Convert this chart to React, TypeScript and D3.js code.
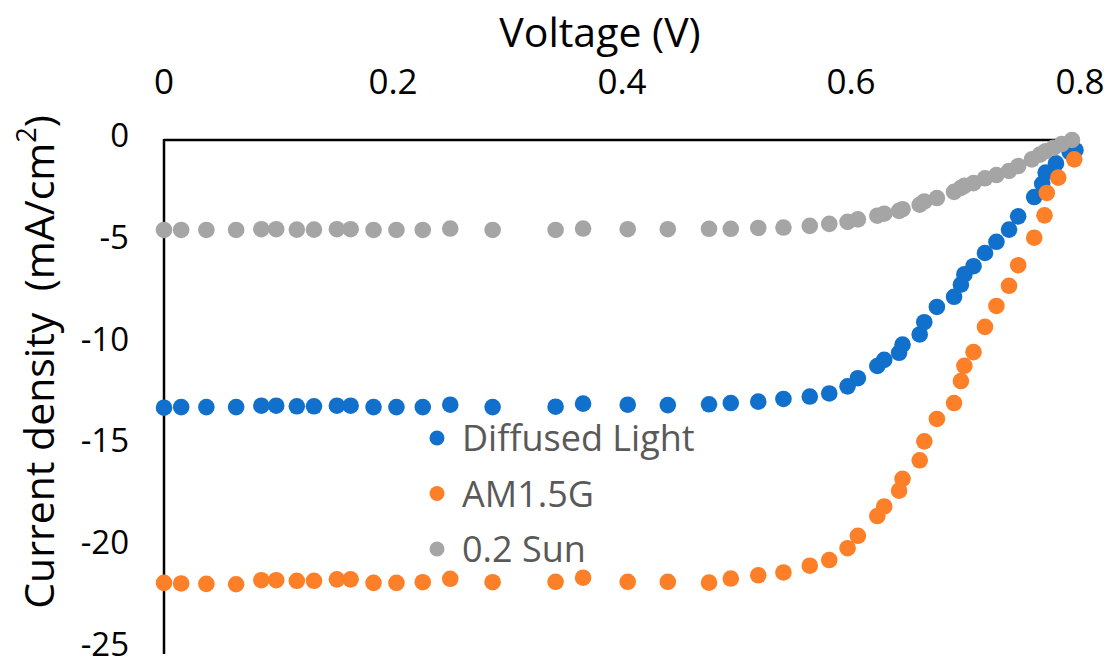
import React from "react";
import * as d3 from "d3";

// voltage sweep shared by the three curves (V)
const sweep = [
  0, 0.015, 0.037, 0.063, 0.085, 0.098, 0.116, 0.131, 0.151, 0.163, 0.183,
  0.203, 0.226, 0.25, 0.287, 0.342, 0.366, 0.405, 0.44, 0.476, 0.495, 0.519,
  0.541, 0.564, 0.581, 0.597, 0.606, 0.623, 0.629, 0.642, 0.645, 0.66, 0.664,
  0.675, 0.69, 0.696, 0.699, 0.707, 0.717, 0.727, 0.738, 0.746,
];

const diffusedV = [...sweep, 0.76, 0.767, 0.77, 0.779, 0.791, 0.796];
const diffusedJ = [
  -13.15, -13.12, -13.12, -13.12, -13.05, -13.05, -13.08, -13.08, -13.05, -13.05,
  -13.12, -13.12, -13.12, -13.0, -13.12, -13.1, -12.95, -13.0, -13.02, -12.98,
  -12.92, -12.85, -12.72, -12.6, -12.45, -12.1, -11.7, -11.1, -10.8, -10.45,
  -10.05, -9.55, -8.95, -8.2, -7.7, -7.1, -6.6, -6.2, -5.55, -5.0, -4.4, -3.75,
  -2.8, -2.15, -1.6, -1.15, -0.6, -0.5,
];

const am15V = [...sweep, 0.76, 0.769, 0.771, 0.781, 0.795];
const am15J = [
  -21.75, -21.78, -21.8, -21.82, -21.62, -21.62, -21.65, -21.65, -21.58, -21.58,
  -21.75, -21.75, -21.72, -21.55, -21.72, -21.7, -21.5, -21.7, -21.7, -21.74,
  -21.54, -21.38, -21.24, -20.91, -20.63, -20.05, -19.44, -18.47, -18.0, -17.22,
  -16.64, -15.73, -14.8, -13.7, -12.92, -11.84, -11.09, -10.42, -9.18, -8.15,
  -7.16, -6.15, -4.8, -3.7, -2.6, -1.85, -0.95,
];

const sunV = [...sweep, 0.758, 0.765, 0.77, 0.777, 0.784, 0.793];
const sunJ = [
  -4.42, -4.42, -4.42, -4.42, -4.38, -4.38, -4.4, -4.4, -4.38, -4.38, -4.42,
  -4.42, -4.42, -4.35, -4.42, -4.42, -4.35, -4.38, -4.38, -4.36, -4.36, -4.32,
  -4.3, -4.22, -4.12, -4.02, -3.9, -3.72, -3.62, -3.48, -3.4, -3.18, -3.02,
  -2.85, -2.55, -2.35, -2.25, -2.12, -1.88, -1.72, -1.52, -1.28, -0.95, -0.72,
  -0.55, -0.38, -0.2, 0.0,
];

const seriesNames = ["Diffused Light", "AM1.5G", "0.2 Sun"];
const seriesColors = ["#1070CC", "#FD7F28", "#A5A5A5"];
const xTicks = [0, 0.2, 0.4, 0.6, 0.8];
const yTicks = [0, -5, -10, -15, -20, -25];

const width = 1118;
const height = 666;
const font = "'Open Sans', 'Noto Sans', sans-serif";

export default function App() {
  const x = d3.scaleLinear().domain([0, 0.8]).range([164, 1080]);
  const y = d3.scaleLinear().domain([-25, 0]).range([649, 140]);

  const series = [
    { v: diffusedV, j: diffusedJ },
    { v: am15V, j: am15J },
    { v: sunV, j: sunJ },
  ];

  return (
    <svg
      width={width}
      height={height}
      style={{ position: "absolute", left: 0, top: 0, background: "#fff" }}
      fontFamily={font}
    >
      <text x={600} y={47} textAnchor="middle" fontSize={41}>
        Voltage (V)
      </text>
      {xTicks.map((t) => (
        <text key={t} x={x(t)} y={94} textAnchor="middle" fontSize={35}>
          {d3.format("")(t)}
        </text>
      ))}
      {yTicks.map((t) => (
        <text key={t} x={129} y={y(t) + 7} textAnchor="end" fontSize={33}>
          {t}
        </text>
      ))}
      <text
        transform={`translate(54, ${362}) rotate(-90)`}
        textAnchor="middle"
        fontSize={41}
      >
        Current density{"\u00a0 "}(mA/cm
        <tspan baselineShift="super" fontSize={27}>2</tspan>)
      </text>

      <line x1={x(0)} x2={x(0.8)} y1={y(0)} y2={y(0)} stroke="#000" strokeWidth={2.5} />
      <line x1={x(0)} x2={x(0)} y1={y(0) - 1} y2={y(-25) + 5} stroke="#000" strokeWidth={2.5} />

      {series.map((s, i) => (
        <g key={i} fill={seriesColors[i]}>
          {s.v.map((v, k) => (
            <circle key={k} cx={x(v)} cy={y(s.j[k])} r={8.3} />
          ))}
        </g>
      ))}

      <g transform="translate(437, 438)">
        {seriesNames.map((name, i) => (
          <g key={name} transform={`translate(0, ${i * 55.5})`}>
            <circle r={7.5} fill={seriesColors[i]} />
            <text x={25} y={13} fontSize={36} fill="#595959">
              {name}
            </text>
          </g>
        ))}
      </g>
    </svg>
  );
}
